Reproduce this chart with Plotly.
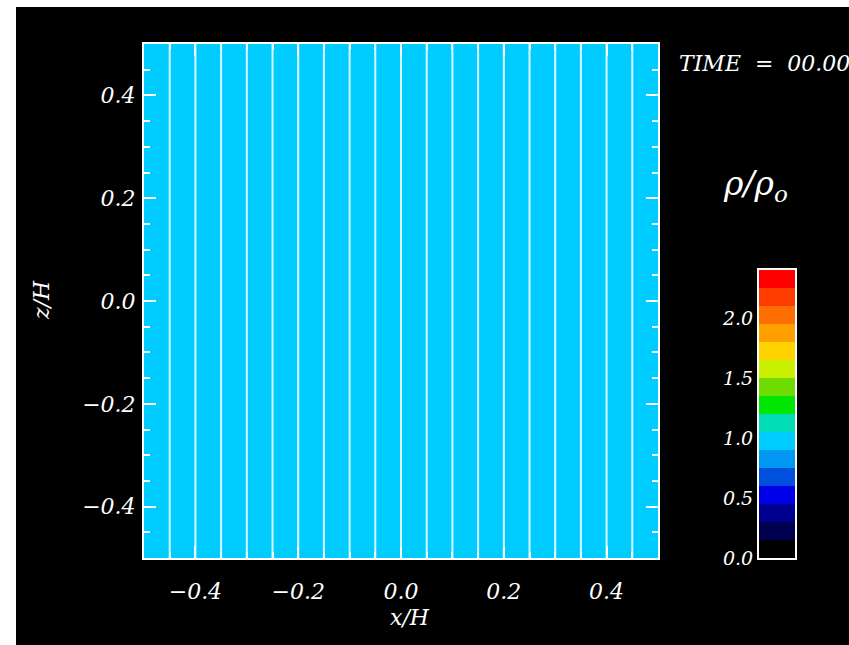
import plotly.graph_objects as go

# ---- data ----
# density field rho/rho0 in the 20 columns between the thin stripes (uniform at t=0)
column_edges_x = [-0.5, -0.45, -0.4, -0.35, -0.3, -0.25, -0.2, -0.15, -0.1, -0.05, 0.0,
                  0.05, 0.1, 0.15, 0.2, 0.25, 0.3, 0.35, 0.4, 0.45, 0.5]
row_edges_z = [-0.5, 0.5]
rho_columns = [1.0, 1.0, 1.0, 1.0, 1.0, 1.0, 1.0, 1.0, 1.0, 1.0,
               1.0, 1.0, 1.0, 1.0, 1.0, 1.0, 1.0, 1.0, 1.0, 1.0]
stripe_x = [-0.45, -0.4, -0.35, -0.3, -0.25, -0.2, -0.15, -0.1, -0.05, 0.0,
            0.05, 0.1, 0.15, 0.2, 0.25, 0.3, 0.35, 0.4, 0.45]

# discrete colour table (bottom to top) and level boundaries
band_levels = [0.0, 0.15, 0.3, 0.45, 0.6, 0.75, 0.9, 1.05, 1.2, 1.35, 1.5,
               1.65, 1.8, 1.95, 2.1, 2.25, 2.4]
band_colors = ["#000000", "#00004E", "#00008E", "#0000E8", "#0050DE", "#0098F2",
               "#00CCFF", "#00DCB4", "#00E600", "#6EDC00", "#C8F000", "#FFD200",
               "#FFA000", "#FF6E00", "#FF3C00", "#FF0000"]
cbar_tickvals = [0.0, 0.5, 1.0, 1.5, 2.0]
xy_tickvals = [-0.4, -0.2, 0.0, 0.2, 0.4]
time_label = "TIME\u00a0\u00a0=\u00a0\u00a000.00"

W, H = 849, 645
ZMIN, ZMAX = band_levels[0], band_levels[-1]
n = len(band_colors)
cscale = []
for i, c in enumerate(band_colors):
    cscale.append([i / n, c])
    cscale.append([(i + 1) / n, c])

def px(x):
    return x / W

def py(y):
    return 1 - y / H

font_tick = dict(family="DejaVu Serif", size=22, color="white", style="italic")

fig = go.Figure()
fig.add_trace(go.Heatmap(
    x=column_edges_x, y=row_edges_z, z=[rho_columns],
    colorscale=cscale, zmin=ZMIN, zmax=ZMAX, showscale=False,
    xaxis="x", yaxis="y", hoverinfo="skip"))
sx, sy = [], []
for xv in stripe_x:
    sx += [xv, xv, None]
    sy += [-0.5, 0.5, None]
fig.add_trace(go.Scatter(x=sx, y=sy, mode="lines",
                         line=dict(color="rgba(235,255,255,0.9)", width=2),
                         xaxis="x", yaxis="y", hoverinfo="skip", showlegend=False))
band_centers = [(band_levels[i] + band_levels[i + 1]) / 2 for i in range(n)]
fig.add_trace(go.Heatmap(
    x=[0, 1], y=band_levels, z=[[c] for c in band_centers],
    colorscale=cscale, zmin=ZMIN, zmax=ZMAX, showscale=False,
    xaxis="x2", yaxis="y2", hoverinfo="skip"))

axis_common = dict(showgrid=False, zeroline=False, showline=True, linecolor="white",
                   linewidth=2, mirror="ticks", ticks="inside", tickcolor="white",
                   ticklen=12, tickwidth=1.5, tickformat=".1f", tickfont=font_tick,
                   tickmode="array", tickvals=xy_tickvals, automargin=False,
                   minor=dict(ticks="inside", ticklen=6, tickcolor="white",
                              tick0=0, dtick=0.05, showgrid=False))

fig.update_layout(
    width=W, height=H, autosize=False,
    margin=dict(l=0, r=0, t=0, b=0, autoexpand=False),
    paper_bgcolor="black", plot_bgcolor="black",
    showlegend=False,
    xaxis=dict(domain=[px(144), px(658)], range=[-0.5, 0.5], anchor="y",
               layer="above traces", ticklabelstandoff=13, **axis_common),
    yaxis=dict(domain=[py(558), py(44)], range=[-0.5, 0.5], anchor="x",
               layer="above traces", ticklabelstandoff=2, **axis_common),
    xaxis2=dict(domain=[px(759), px(795)], range=[0, 1], anchor="y2",
                showgrid=False, zeroline=False, showticklabels=False,
                showline=True, linecolor="white", linewidth=2, mirror=True,
                layer="above traces", automargin=False),
    yaxis2=dict(domain=[py(558), py(270)], range=[ZMIN, ZMAX], anchor="x2",
                showgrid=False, zeroline=False, showline=True, linecolor="white",
                linewidth=2, mirror=True, ticks="", tickmode="array",
                tickvals=cbar_tickvals, tickformat=".1f", automargin=False,
                tickfont=dict(family="DejaVu Serif", size=19, color="white", style="italic"),
                layer="above traces"),
    shapes=[
        dict(type="rect", xref="paper", yref="paper", x0=0, x1=px(16), y0=0, y1=1,
             fillcolor="white", line=dict(width=0), layer="below"),
        dict(type="rect", xref="paper", yref="paper", x0=0, x1=1, y0=py(7), y1=1,
             fillcolor="white", line=dict(width=0), layer="below"),
    ],
    annotations=[
        dict(text="x/H", xref="paper", yref="paper", x=px(410), y=py(617),
             showarrow=False, font=font_tick, xanchor="center", yanchor="middle"),
        dict(text="z/H", xref="paper", yref="paper", x=px(42), y=py(300),
             showarrow=False, font=font_tick, textangle=-90,
             xanchor="center", yanchor="middle"),
        dict(text=time_label, xref="paper", yref="paper", x=px(677), y=py(63),
             showarrow=False, font=font_tick, xanchor="left", yanchor="middle"),
        dict(text="ρ/ρ<sub>o</sub>", xref="paper", yref="paper", x=px(755), y=py(185),
             showarrow=False,
             font=dict(family="DejaVu Serif", size=33, color="white", style="italic"),
             xanchor="center", yanchor="middle"),
    ],
)

fig.write_html("out.html")
